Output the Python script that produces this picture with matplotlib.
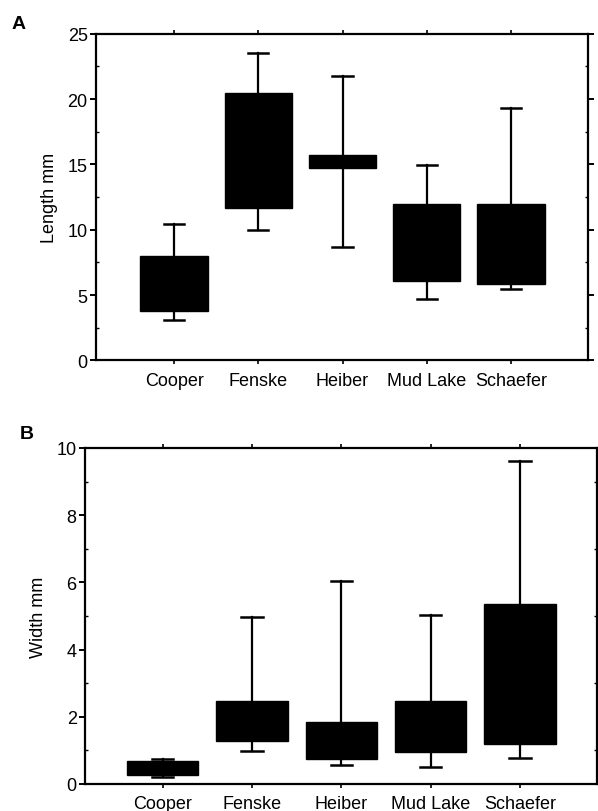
import matplotlib
matplotlib.use("Agg")
import matplotlib.pyplot as plt
from matplotlib.ticker import MultipleLocator

plt.rcParams['font.family'] = ['Liberation Sans', 'DejaVu Sans']

sites = ["Cooper", "Fenske", "Heiber", "Mud Lake", "Schaefer"]

# panel A: length (mm)
len_whislo = [3.1, 10.0, 8.7, 4.7, 5.5]
len_q1 = [3.8, 11.65, 14.7, 6.05, 5.85]
len_q3 = [8.0, 20.45, 15.75, 12.0, 12.0]
len_whishi = [10.4, 23.5, 21.8, 14.95, 19.3]

# panel B: width (mm)
wid_whislo = [0.22, 0.98, 0.57, 0.52, 0.78]
wid_q1 = [0.28, 1.27, 0.75, 0.95, 1.2]
wid_q3 = [0.68, 2.48, 1.85, 2.48, 5.37]
wid_whishi = [0.75, 4.97, 6.03, 5.03, 9.6]


def make_stats(lo, q1, q3, hi):
    stats = []
    for name, a, b, c, d in zip(sites, lo, q1, q3, hi):
        # median is not shown in the figure, so just park it on q1
        stats.append({"label": name, "whislo": a, "q1": b, "med": b,
                      "q3": c, "whishi": d, "fliers": []})
    return stats


def draw_panel(ax, stats, ymax, ystep, ylabel, xlim, letter, letter_xy):
    ax.bxp(stats, positions=range(1, 6), widths=0.8, patch_artist=True,
           showfliers=False,
           boxprops=dict(facecolor="black", edgecolor="black", linewidth=1),
           whiskerprops=dict(color="black", linewidth=1.6),
           capprops=dict(color="black", linewidth=1.8),
           medianprops=dict(linewidth=0),
           capwidths=0.24)
    ax.set_xlim(*xlim)
    ax.set_ylim(0, ymax)
    ax.yaxis.set_major_locator(MultipleLocator(ystep))
    ax.yaxis.set_minor_locator(MultipleLocator(ystep / 2))
    ax.set_ylabel(ylabel, fontsize=13, labelpad=7)
    ax.set_xticks(range(1, 6))
    ax.set_xticklabels(sites)
    for s in ax.spines.values():
        s.set_linewidth(1.6)
    ax.tick_params(axis="y", which="major", direction="out", length=4, width=1.4,
                   labelsize=13, right=True, pad=2)
    ax.tick_params(axis="y", which="minor", direction="in", length=2, width=1, right=True)
    ax.tick_params(axis="x", direction="out", length=3, width=1.2, labelsize=13,
                   top=True, pad=5)
    ax.text(letter_xy[0], letter_xy[1], letter, transform=ax.transAxes, fontsize=14,
            fontweight="bold", ha="left", va="center")


fig = plt.figure(figsize=(5.98, 8.12), dpi=100)
W, H = 598, 812
axA = fig.add_axes([96 / W, 1 - 361.4 / H, (588.3 - 96) / W, (361.4 - 34.7) / H])
axB = fig.add_axes([85 / W, 1 - 785 / H, (596.7 - 85) / W, (785 - 449) / H])

draw_panel(axA, make_stats(len_whislo, len_q1, len_q3, len_whishi),
           25, 5, "Length mm", (0.073, 5.918), "A", (-0.171, 1.03))
draw_panel(axB, make_stats(wid_whislo, wid_q1, wid_q3, wid_whishi),
           10, 2, "Width mm", (0.129, 5.86), "B", (-0.127, 1.043))

fig.savefig("out.png", dpi=100)
